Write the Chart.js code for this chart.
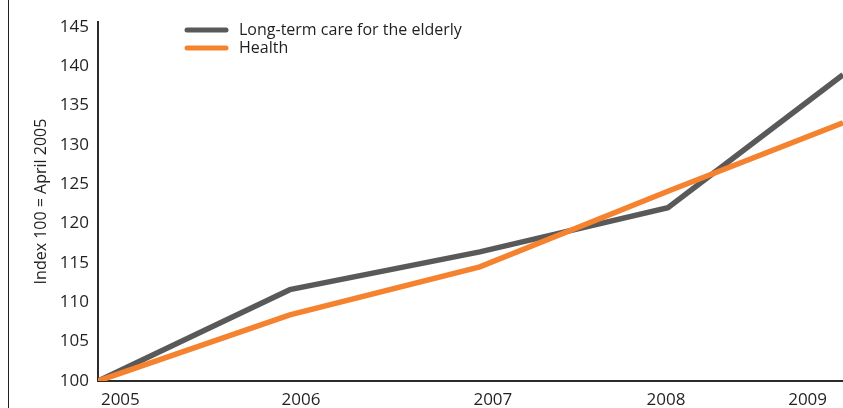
<!DOCTYPE html>
<html>
<head>
<meta charset="utf-8">
<script src="https://cdn.jsdelivr.net/npm/chart.js@4/dist/chart.umd.min.js"></script>
<style>
    html, body { margin: 0; padding: 0; background: #fff; }
    #wrap { width: 843px; height: 408px; position: relative; }
</style>
</head>
<body>
<div id="wrap"><canvas id="chart"></canvas></div>
<script>
// decimal years, April 2005 = start
const periods = [2005.0, 2006.03, 2007.05, 2008.06, 2009.0];
const longTermCare = [100, 111.6, 116.4, 122.0, 138.9];
const health = [100, 108.4, 114.5, 124.1, 132.8];

const yearTicks = [2005.12, 2006.09, 2007.12, 2008.05, 2008.81];
const yearLabels = ['2005', '2006', '2007', '2008', '2009'];
const indexTicks = [100, 105, 110, 115, 120, 125, 130, 135, 140, 145];

const textColor = '#231f20';
const fontFamily = "'Open Sans', 'Noto Sans', sans-serif";

function toPoints(values) {
    return values.map((v, i) => ({x: periods[i], y: v}));
}

// legend sitting inside the plot, plus the thin frame line on the left
const extras = {
    id: 'extras',
    afterDraw(chart) {
        const ctx = chart.ctx;
        ctx.save();
        ctx.strokeStyle = textColor;
        ctx.lineWidth = 1;
        ctx.beginPath();
        ctx.moveTo(8.5, 0);
        ctx.lineTo(8.5, chart.height);
        ctx.stroke();

        ctx.font = '16px ' + fontFamily;
        ctx.textBaseline = 'middle';
        ctx.lineCap = 'round';
        chart.data.datasets.forEach((ds, i) => {
            let y = 30 + i * 18;
            ctx.strokeStyle = ds.borderColor;
            ctx.lineWidth = 5;
            ctx.beginPath();
            ctx.moveTo(187, y);
            ctx.lineTo(226, y);
            ctx.stroke();
            ctx.fillStyle = textColor;
            ctx.fillText(ds.label, 239, y);
        });
        ctx.restore();
    }
};

new Chart(document.getElementById('chart').getContext('2d'), {
    type: 'line',
    data: {
        datasets: [
            {
                label: 'Long-term care for the elderly',
                data: toPoints(longTermCare),
                borderColor: '#595959',
                backgroundColor: '#595959',
                borderWidth: 5.5,
                pointRadius: 0,
                tension: 0,
                order: 2,
            },
            {
                label: 'Health',
                data: toPoints(health),
                borderColor: '#f5822f',
                backgroundColor: '#f5822f',
                borderWidth: 5.5,
                pointRadius: 0,
                tension: 0,
                order: 1,
            },
        ]
    },
    options: {
        responsive: true,
        maintainAspectRatio: false,
        animation: false,
        layout: {padding: {top: 22, left: 0, right: 0, bottom: 0}},
        plugins: {
            legend: {display: false},
            tooltip: {enabled: false},
        },
        scales: {
            x: {
                type: 'linear',
                min: 2005.0,
                max: 2009.0,
                afterBuildTicks: (scale) => {
                    scale.ticks = yearTicks.map(v => ({value: v}));
                },
                afterFit: (scale) => { scale.height = 27; },
                grid: {display: false, drawTicks: false},
                border: {display: true, color: '#2b2b2b', width: 2},
                ticks: {
                    padding: 9,
                    maxRotation: 0,
                    autoSkip: false,
                    color: textColor,
                    font: {family: fontFamily, size: 17},
                    callback: (value, i) => yearLabels[i],
                },
            },
            y: {
                min: 100,
                max: 145.6,
                afterBuildTicks: (scale) => {
                    scale.ticks = indexTicks.map(v => ({value: v}));
                },
                afterFit: (scale) => { scale.width = 98; },
                grid: {display: false, drawTicks: false},
                border: {display: true, color: '#2b2b2b', width: 2},
                title: {
                    display: true,
                    text: 'Index 100 = April 2005',
                    color: textColor,
                    font: {family: fontFamily, size: 16},
                    padding: {top: 32, bottom: 0},
                },
                ticks: {
                    padding: 9,
                    color: textColor,
                    font: {family: fontFamily, size: 17},
                    callback: (value) => value,
                },
            },
        },
    },
    plugins: [extras],
});
</script>
</body>
</html>
